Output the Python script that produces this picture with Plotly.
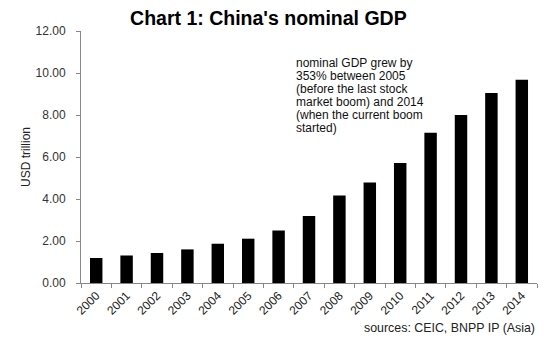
import plotly.graph_objects as go

# China nominal GDP, USD trillion
years = ["2000", "2001", "2002", "2003", "2004", "2005", "2006", "2007",
         "2008", "2009", "2010", "2011", "2012", "2013", "2014"]
gdp = [1.19, 1.31, 1.43, 1.60, 1.87, 2.11, 2.50, 3.19,
       4.17, 4.78, 5.71, 7.16, 8.00, 9.05, 9.68]
y_ticks = [0, 2, 4, 6, 8, 10, 12]

note_lines = [
    "nominal GDP grew by",
    "353% between 2005",
    "(before the last stock",
    "market boom) and 2014",
    "(when the current boom",
    "started)",
]
source_text = "sources: CEIC, BNPP IP (Asia)"

font_family = "Liberation Sans, Arial, sans-serif"

# plot area geometry (pixels)
W, H = 550, 346
L, R, T, B = 81, 13, 31, 63
plot_h = H - T - B

fig = go.Figure(
    go.Bar(x=years, y=gdp, marker=dict(color="black", line=dict(width=0)))
)

fig.update_layout(
    width=W, height=H,
    margin=dict(l=L, r=R, t=T, b=B),
    paper_bgcolor="white", plot_bgcolor="white",
    bargap=0.59,
    showlegend=False,
    font=dict(family=font_family, size=12, color="#222"),
    title=dict(
        text="<b>Chart 1: China's nominal GDP</b>",
        x=0.488, xanchor="center", y=0.948, yanchor="middle",
        font=dict(family=font_family, size=19.5, color="black"),
    ),
)

fig.update_xaxes(
    type="category",
    showline=True, linecolor="#888", linewidth=1,
    ticks="outside", ticklen=4, tickcolor="#888",
    tickson="boundaries",
    tickangle=-45,
    tickfont=dict(size=12, color="#222"),
    showgrid=False,
)

fig.update_yaxes(
    range=[0, 12],
    tickvals=y_ticks,
    tickformat=".2f",
    showline=True, linecolor="#888", linewidth=1,
    ticks="outside", ticklen=4, tickcolor="#888",
    ticklabelstandoff=8,
    tickfont=dict(size=12, color="#333"),
    showgrid=False, zeroline=False,
    title=dict(text="USD trillion", font=dict(size=12, color="#222"), standoff=2),
)

# multi-line note, one annotation per line for tight line spacing
first_line_px = 63
line_step_px = 13
for i, line in enumerate(note_lines):
    yc = first_line_px + i * line_step_px
    fig.add_annotation(
        xref="paper", yref="paper", x=0.467, y=(H - B - yc) / plot_h,
        xanchor="left", yanchor="middle", align="left", showarrow=False,
        text=line, font=dict(size=12, color="#111"),
    )

fig.add_annotation(
    xref="paper", yref="paper", x=1.0, y=(H - B - 328) / plot_h,
    xanchor="right", yanchor="middle", showarrow=False,
    text=source_text,
    font=dict(size=12.4, color="#222"),
)

fig.write_html("out.html")
